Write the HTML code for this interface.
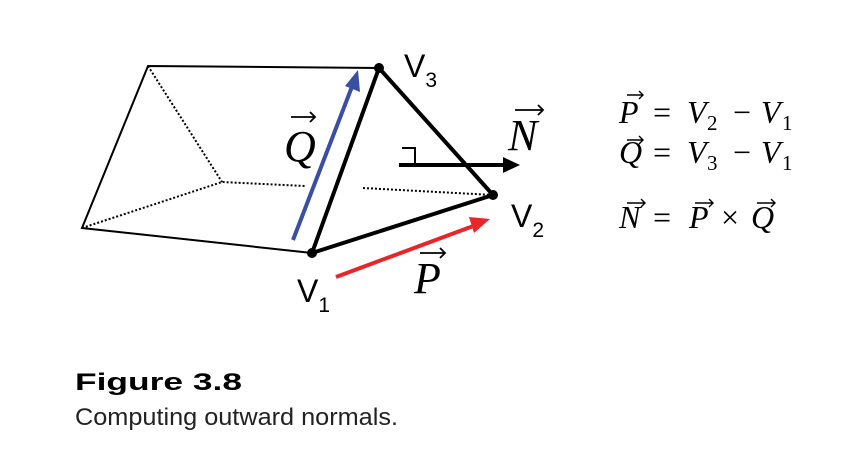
<!DOCTYPE html>
<html><head><meta charset="utf-8"><style>
html,body{margin:0;padding:0;background:#fff;width:866px;height:456px;overflow:hidden}
svg{display:block}
.v{font-family:"Liberation Sans",sans-serif;font-size:32px;fill:#000}
.s{font-family:"Liberation Sans",sans-serif;font-size:21px;fill:#000}
.m{font-family:"Liberation Serif",serif;font-style:italic;font-size:44px;fill:#000}
.e{font-family:"Liberation Serif",serif;font-size:32px;fill:#000}
.ei{font-family:"Liberation Serif",serif;font-style:italic;font-size:32px;fill:#000}
.sub{font-family:"Liberation Serif",serif;font-size:21px;fill:#000}
</style></head><body>
<svg width="866" height="456" viewBox="0 0 866 456">
<g fill="none" stroke="#000">
<path d="M312,253 L82,228 L148,66 L379,68" stroke-width="2"/>
<path d="M148,66 L222,182 M82,228 L222,182 L305,186 M363,188 L493,195" stroke-width="2" stroke-dasharray="2,2"/>
<path d="M312,253 L379,68 L493,195 Z" stroke-width="4" stroke-linejoin="round"/>
</g>
<g fill="#000">
<circle cx="312" cy="253" r="5"/><circle cx="379" cy="68" r="5"/><circle cx="493" cy="195" r="5"/>
</g>
<g>
<line x1="293" y1="240" x2="353" y2="84" stroke="#3a4fa3" stroke-width="4"/>
<path d="M358,70 L360,92 L345,86 Z" fill="#3a4fa3"/>
</g>
<g>
<line x1="336" y1="277" x2="476" y2="225" stroke="#e8262a" stroke-width="4"/>
<path d="M490,219 L474,233 L469,217 Z" fill="#e8262a"/>
</g>
<g>
<line x1="399" y1="165" x2="505" y2="165" stroke="#000" stroke-width="4"/>
<path d="M520,165 L503,157 L503,173 Z" fill="#000"/>
<path d="M402,148 L415,148 L415,163" fill="none" stroke="#000" stroke-width="2"/>
</g>
<g>
<text class="v" x="404" y="77">V<tspan class="s" dy="10">3</tspan></text>
<text class="v" x="511" y="227">V<tspan class="s" dy="10">2</tspan></text>
<text class="v" x="297" y="302">V<tspan class="s" dy="10">1</tspan></text>
</g>
<g>
<g stroke="#000" stroke-width="1.8" fill="none">
<path d="M291,117 L315,117 M310,112 L315,117 L310,122"/>
<path d="M515,110 L543,110 M538,105 L543,110 L538,115"/>
<path d="M420,253 L445,253 M440,248 L445,253 L440,258"/>
</g>
<text class="m" x="284" y="161">Q</text>
<text class="m" x="508" y="150">N</text>
<text class="m" x="414" y="293">P</text>
</g>
<g>
<g stroke="#000" stroke-width="1.4" fill="none">
<path d="M627,95 L643,95 M639,91 L643,95 L639,99"/>
<path d="M627,140 L643,140 M639,136 L643,140 L639,144"/>
<path d="M627,203 L645,203 M641,199 L645,203 L641,207"/>
<path d="M695,203 L713,203 M709,199 L713,203 L709,207"/>
<path d="M757,203 L775,203 M771,199 L775,203 L771,207"/>
</g>
<text class="ei" x="619" y="123">P</text><text class="e" x="653" y="123">=</text><text class="ei" x="687" y="123">V</text><text class="sub" x="707" y="130">2</text><text class="e" x="733" y="123">−</text><text class="ei" x="761" y="123">V</text><text class="sub" x="782" y="130">1</text>
<text class="ei" x="619" y="163">Q</text><text class="e" x="653" y="163">=</text><text class="ei" x="687" y="163">V</text><text class="sub" x="707" y="170">3</text><text class="e" x="733" y="163">−</text><text class="ei" x="761" y="163">V</text><text class="sub" x="782" y="170">1</text>
<text class="ei" x="619" y="228">N</text><text class="e" x="653" y="228">=</text><text class="ei" x="689" y="228">P</text><text class="e" x="721" y="228">×</text><text class="ei" x="751" y="228">Q</text>
</g>
<text x="75" y="390" font-family="Liberation Sans,sans-serif" font-weight="bold" font-size="24" textLength="167" lengthAdjust="spacingAndGlyphs">Figure 3.8</text>
<text x="75" y="425" font-family="Liberation Sans,sans-serif" font-size="24" fill="#222" textLength="323" lengthAdjust="spacingAndGlyphs">Computing outward normals.</text>
</svg>
</body></html>
